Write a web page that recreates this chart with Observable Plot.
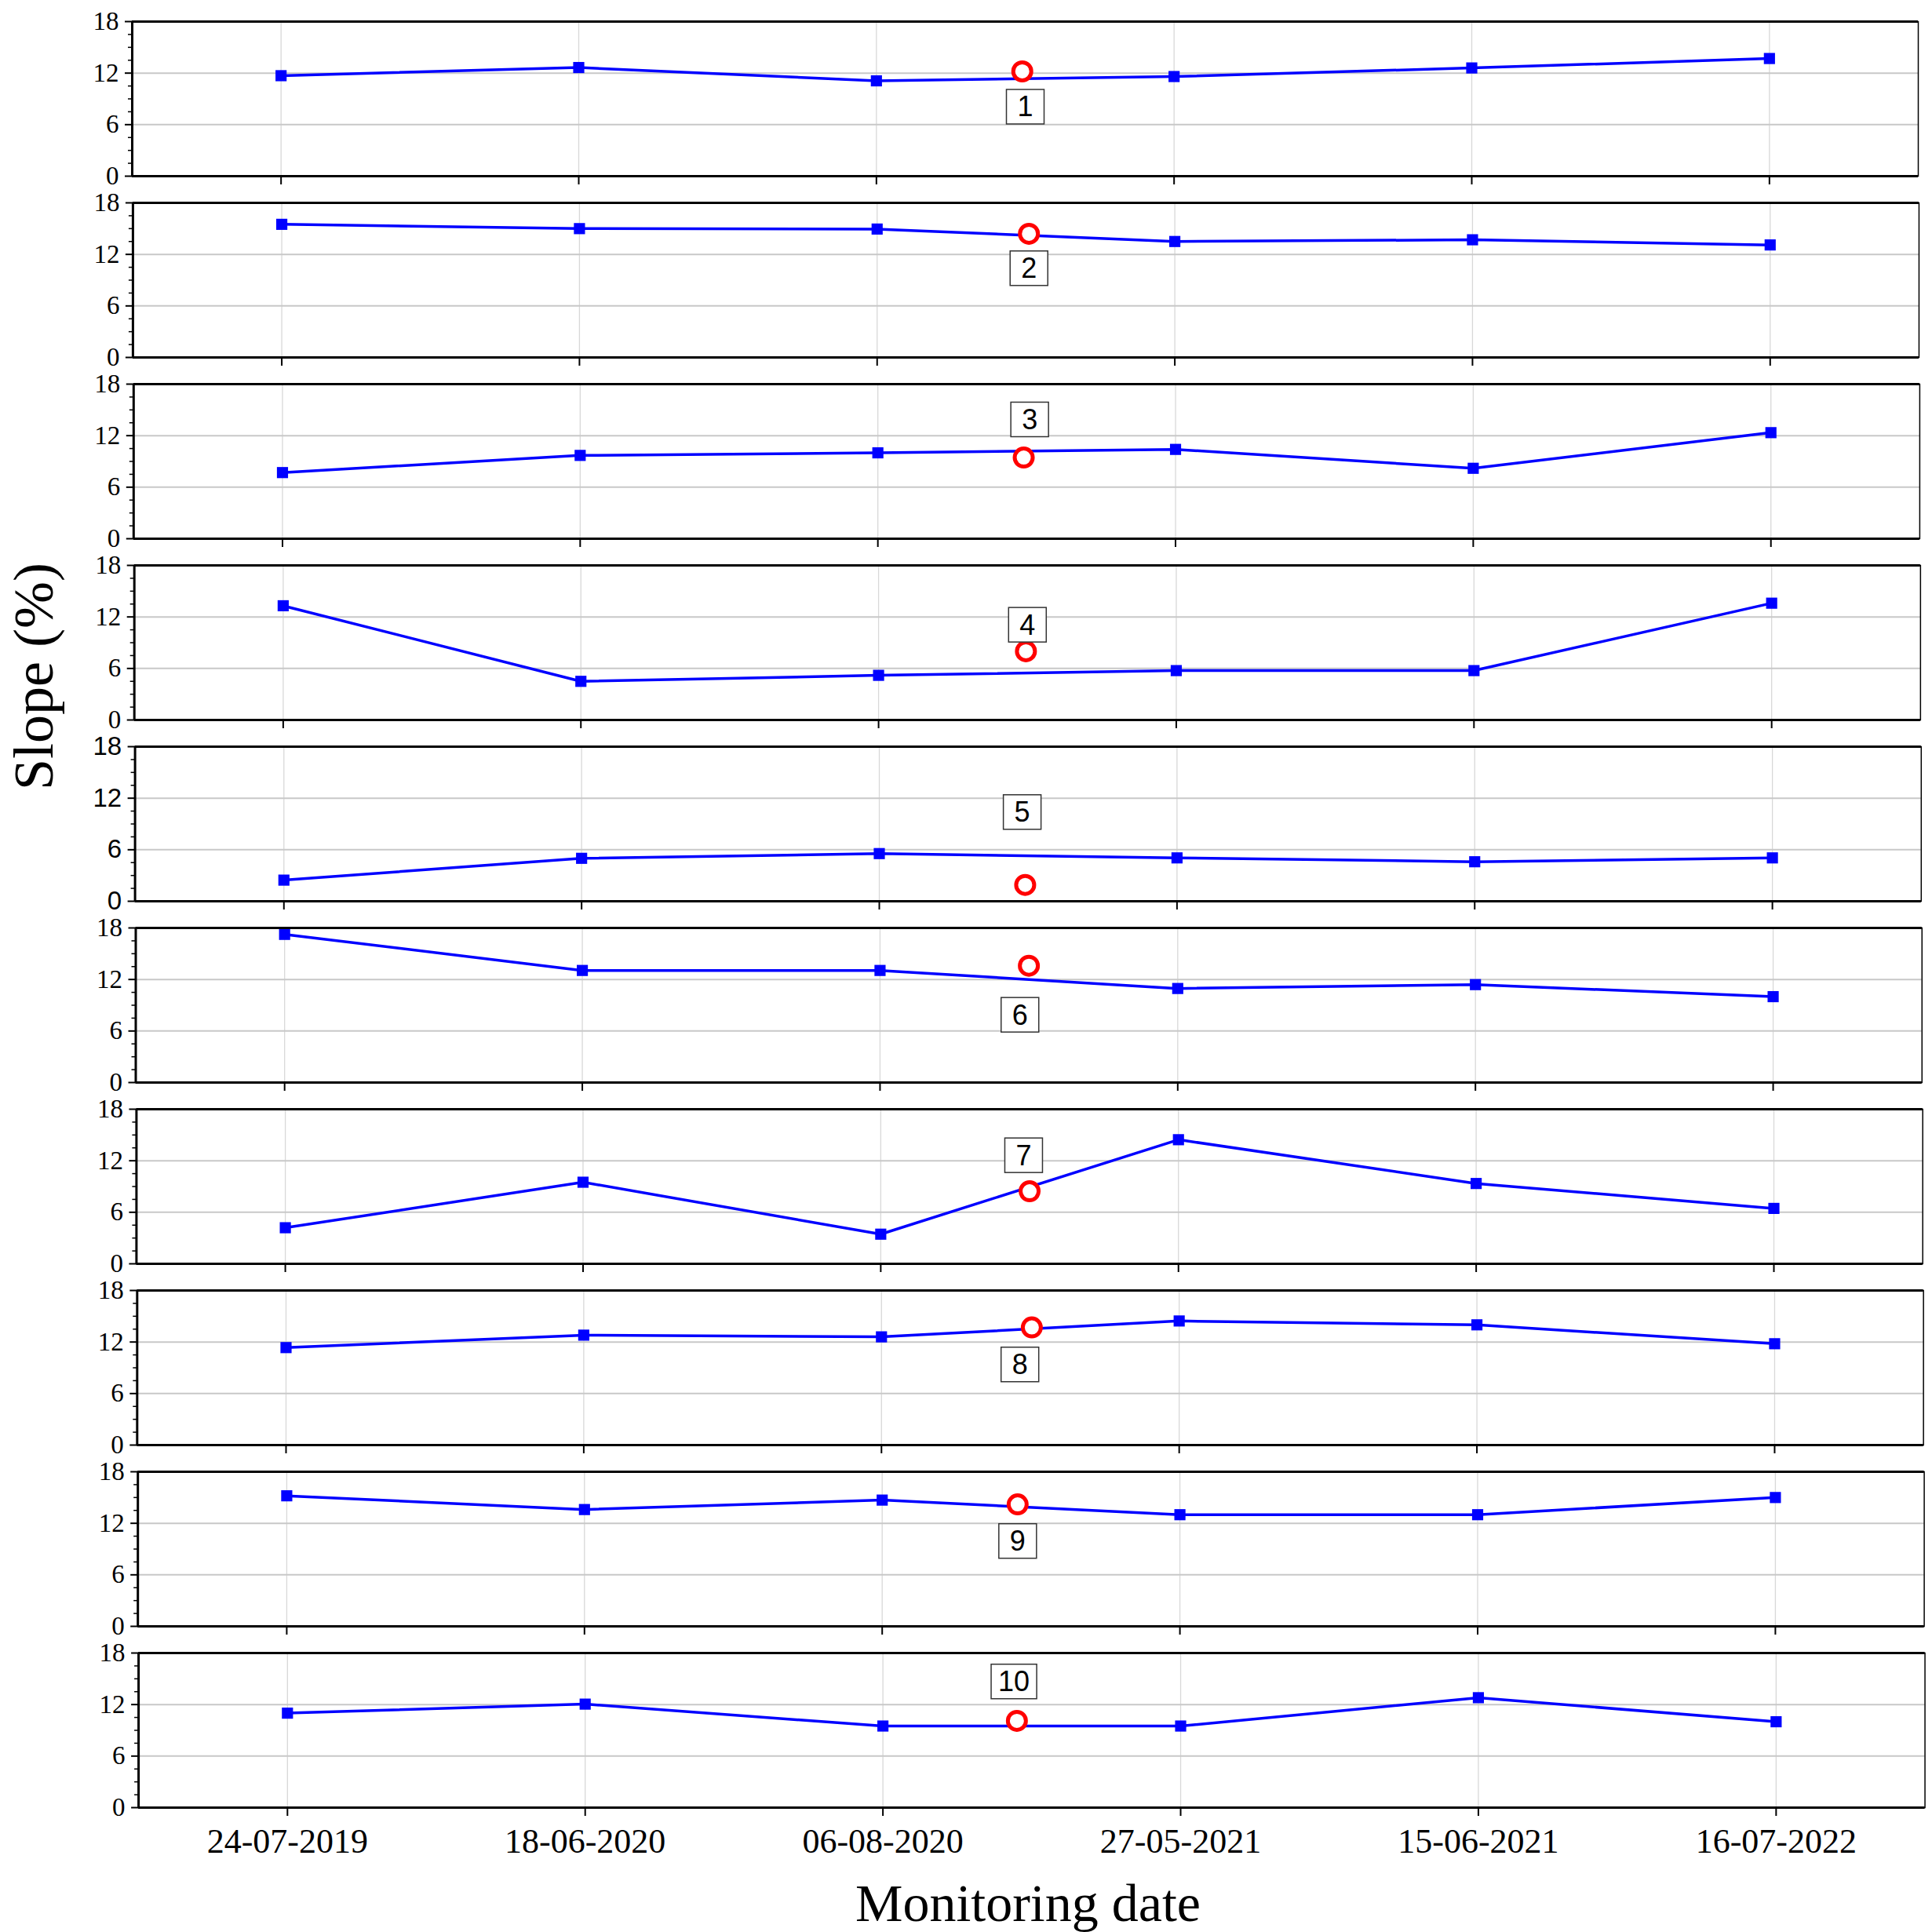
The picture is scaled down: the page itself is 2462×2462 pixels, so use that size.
<!DOCTYPE html>
<html>
<head>
<meta charset="utf-8">
<script src="https://cdn.jsdelivr.net/npm/d3@7"></script>
<script src="https://cdn.jsdelivr.net/npm/@observablehq/plot@0.6"></script>
<style>
  body { margin: 0; background: #fff; }
  #wrap { position: relative; width: 2462px; height: 2462px; overflow: hidden; background: #fff; }
  #panels { position: absolute; left: 0; top: 10px; }
  #ytitle { position: absolute; left: 43px; top: 862px; transform: translate(-50%, -50%) rotate(-90deg);
            font-family: "Liberation Serif", "Times New Roman", serif; font-size: 72px; line-height: 1;
            white-space: nowrap; color: #000; }
  #xtitle { position: absolute; left: 170px; width: 2280px; top: 2385px; text-align: center;
            font-family: "Liberation Serif", "Times New Roman", serif; font-size: 68px; line-height: 80px;
            white-space: nowrap; color: #000; }
</style>
</head>
<body>
<div id="wrap">
  <div id="panels"></div>
  <div id="ytitle">Slope (%)</div>
  <div id="xtitle">Monitoring date</div>
</div>
<script>
// ---------- data ----------
const dates = ["24-07-2019", "18-06-2020", "06-08-2020", "27-05-2021", "15-06-2021", "16-07-2022"];
const xIdx = [0, 1, 2, 3, 4, 5];
const xDomain = [-0.5, 5.5];
const yDomain = [0, 18];
const yTicks = [0, 6, 12, 18];
const yMinorTicks = [1.5, 3, 4.5, 7.5, 9, 10.5, 13.5, 15, 16.5];

const slope1  = [11.7, 12.65, 11.1, 11.6, 12.6, 13.7];
const slope2  = [15.5, 15.0, 14.95, 13.5, 13.7, 13.1];
const slope3  = [7.7, 9.7, 10.0, 10.4, 8.2, 12.35];
const slope4  = [13.3, 4.5, 5.2, 5.75, 5.75, 13.6];
const slope5  = [2.46, 5.0, 5.55, 5.05, 4.6, 5.05];
const slope6  = [17.25, 13.05, 13.05, 10.95, 11.4, 10.0];
const slope7  = [4.2, 9.5, 3.45, 14.45, 9.35, 6.45];
const slope8  = [11.35, 12.8, 12.6, 14.45, 14.0, 11.8];
const slope9  = [15.2, 13.6, 14.7, 13.0, 13.0, 15.0];
const slope10 = [11.0, 12.05, 9.5, 9.5, 12.8, 10.0];
const series = [slope1, slope2, slope3, slope4, slope5, slope6, slope7, slope8, slope9, slope10];

// red circles (position along the date index, value)
const circleX = [2.49, 2.51, 2.49, 2.495, 2.49, 2.50, 2.50, 2.505, 2.455, 2.45];
const circleY = [12.2, 14.4, 9.45, 8.0, 1.9, 13.6, 8.45, 13.7, 14.2, 10.1];

// panel number labels
const labelText = ["1", "2", "3", "4", "5", "6", "7", "8", "9", "10"];
const labelX = [2.50, 2.51, 2.51, 2.50, 2.48, 2.47, 2.48, 2.465, 2.455, 2.44];
const labelY = [8.0, 10.3, 13.8, 11.0, 10.3, 7.8, 12.55, 9.3, 9.85, 14.6];

// ---------- drawing ----------
const serif = "'Liberation Serif', 'Times New Roman', serif";
const sans = "'Liberation Sans', Arial, sans-serif";
const W = 2462, MT = 17, PH = 197, MB = 17, MB_LAST = 75;
const host = document.getElementById("panels");

series.forEach((vals, i) => {
  const last = i === series.length - 1;
  const data = vals.map((v, j) => ({x: xIdx[j], y: v}));
  const tickFont = i === 4 ? sans : serif;
  const mb = last ? MB_LAST : MB;
  // the original figure drifts slightly to the right from top to bottom
  const ml = 168 + 0.9 * i;
  const mr = 18 - 0.95 * i;
  const chart = Plot.plot({
    width: W,
    height: MT + PH + mb,
    marginLeft: ml, marginRight: mr, marginTop: MT, marginBottom: mb,
    style: {display: "block", background: "transparent", overflow: "visible", fontFamily: serif, color: "black"},
    x: {domain: xDomain},
    y: {domain: yDomain},
    marks: [
      Plot.gridX(xIdx, {stroke: "#d8d8d8", strokeOpacity: 1, strokeWidth: 1.3}),
      Plot.gridY(yTicks, {stroke: "#c8c8c8", strokeOpacity: 1, strokeWidth: 2}),
      Plot.line(data, {x: "x", y: "y", stroke: "#0000ff", strokeWidth: 3.5}),
      Plot.dot(data, {x: "x", y: "y", symbol: "square", r: 8, fill: "#0000ff", stroke: "none"}),
      Plot.dot([{x: circleX[i], y: circleY[i]}], {x: "x", y: "y", r: 11.5, stroke: "#ff0000", strokeWidth: 5, fill: "white"}),
      Plot.text([{x: labelX[i], y: labelY[i], t: labelText[i]}], {
        x: "x", y: "y", text: "t", fontSize: 36, fontFamily: sans, fill: "black"
      }),
      Plot.frame({stroke: "black", strokeWidth: 1.5}),
      Plot.ruleY(yDomain, {stroke: "black", strokeWidth: 3}),
      Plot.ruleX([xDomain[0]], {stroke: "black", strokeWidth: 3}),
      Plot.axisY(yTicks, {anchor: "left", tickSize: 9, tickPadding: 8, fontSize: 33, fontFamily: tickFont,
                          label: null, stroke: "black", strokeWidth: 2}),
      Plot.axisY(yMinorTicks, {anchor: "left", tickSize: 5, tickFormat: () => "", label: null,
                               stroke: "black", strokeWidth: 1.5}),
      Plot.axisX(xIdx, {anchor: "bottom", tickSize: 11, tickPadding: 15, fontSize: 44, fontFamily: serif,
                        tickFormat: last ? (d => dates[d]) : (() => ""), label: null,
                        stroke: "black", strokeWidth: 2})
    ]
  });
  // make sure the y tick labels use the intended face
  chart.querySelectorAll('g[aria-label="y-axis tick label"]').forEach(g => {
    g.style.fontFamily = tickFont;
    g.querySelectorAll("text").forEach(t => t.style.fontFamily = tickFont);
  });
  host.appendChild(chart);
});

// boxes around the panel number labels
const NS = "http://www.w3.org/2000/svg";
document.querySelectorAll('g[font-size="36"] text').forEach(t => {
  const b = t.getBBox();
  const w = Math.max(b.width + 18, 48), h = 44;
  const cx = b.x + b.width / 2, cy = b.y + b.height / 2;
  const r = document.createElementNS(NS, "rect");
  r.setAttribute("x", cx - w / 2);
  r.setAttribute("y", cy - h / 2);
  r.setAttribute("width", w);
  r.setAttribute("height", h);
  r.setAttribute("fill", "white");
  r.setAttribute("stroke", "#333");
  r.setAttribute("stroke-width", 1.5);
  const tr = t.getAttribute("transform");
  if (tr) r.setAttribute("transform", tr);
  t.parentNode.insertBefore(r, t);
});
</script>
</body>
</html>
